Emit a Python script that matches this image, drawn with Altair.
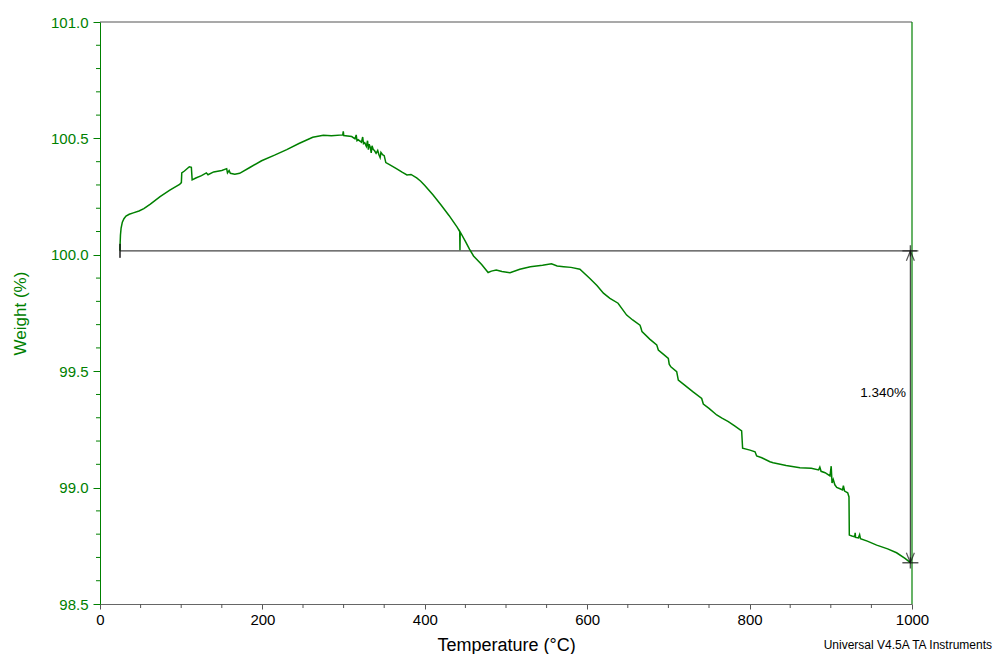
import altair as alt
import pandas as pd

GREEN = "#008000"
FONT = "Liberation Sans"

# TGA curve: temperature (°C) and weight (%)
temperature = [24.6, 24.8, 25.2, 26.0, 27.5, 29.5, 32, 36, 41, 48, 54, 62, 74, 86, 98,
               100.2, 100.7, 104, 110, 112.5, 113.5, 118, 125, 131, 133, 140, 150, 156, 157, 159,
               160.5, 166, 172, 185, 199, 215, 230, 245, 262, 275, 285, 299, 299.6, 300.2, 310,
               314, 315.5, 316.5, 318, 322, 323.5, 324.5, 326, 328, 329.5, 330.5, 331.5, 333, 334, 335,
               336.5, 338, 340, 342, 343.5, 345, 346, 348, 350, 352, 356, 365, 372, 378, 383,
               390, 395, 400, 410, 420, 430, 440, 443.0, 443.3, 443.6, 450, 455, 460, 470, 478,
               482, 488, 495, 505, 517, 530, 545, 556, 563, 571, 580, 591, 603, 612, 620,
               628, 638, 648.6, 656, 665, 666, 667.5, 677, 685.6, 687.6, 694, 699.9, 701, 703, 710.2,
               712.2, 720, 730, 741, 743, 750, 759.5, 766, 773.8, 782, 790.2, 791.4, 800.5, 806.7, 808.7,
               815, 825, 829, 845, 862, 876, 885, 886.5, 888, 893, 899, 900.5, 901.5, 903, 905,
               907.3, 912, 914.5, 915.5, 917, 920.8, 922.4, 922.8, 926, 929.5, 930, 930.5, 934, 935.5, 936.5,
               945, 956.5, 970, 981, 991.4, 998.4]
weight = [100.017, 100.05, 100.085, 100.115, 100.14, 100.155, 100.166, 100.174, 100.18, 100.188, 100.198, 100.218, 100.25, 100.278, 100.302,
          100.31, 100.352, 100.36, 100.378, 100.376, 100.322, 100.33, 100.34, 100.352, 100.344, 100.356, 100.362, 100.37, 100.352, 100.362,
          100.35, 100.346, 100.35, 100.376, 100.404, 100.428, 100.452, 100.478, 100.505, 100.514, 100.511, 100.515, 100.53, 100.512, 100.508,
          100.498, 100.515, 100.49, 100.494, 100.484, 100.506, 100.478, 100.482, 100.466, 100.49, 100.452, 100.475, 100.46, 100.438, 100.468,
          100.452, 100.448, 100.436, 100.448, 100.43, 100.418, 100.44, 100.43, 100.426, 100.396, 100.388, 100.37, 100.355, 100.343, 100.345,
          100.33, 100.316, 100.298, 100.258, 100.214, 100.168, 100.118, 100.1, 100.02, 100.098, 100.058, 100.024, 99.995, 99.958, 99.924,
          99.93, 99.935, 99.928, 99.923, 99.938, 99.949, 99.955, 99.961, 99.952, 99.949, 99.946, 99.938, 99.899, 99.868, 99.835,
          99.813, 99.792, 99.741, 99.72, 99.698, 99.688, 99.67, 99.638, 99.613, 99.591, 99.572, 99.555, 99.53, 99.519, 99.498,
          99.462, 99.44, 99.412, 99.383, 99.359, 99.34, 99.312, 99.298, 99.283, 99.264, 99.244, 99.169, 99.161, 99.154, 99.136,
          99.128, 99.111, 99.107, 99.095, 99.085, 99.083, 99.076, 99.088, 99.07, 99.064, 99.05, 99.092, 99.02, 99.035, 99.012,
          99.001, 98.994, 98.99, 99.008, 98.985, 98.978, 98.96, 98.796, 98.792, 98.789, 98.806, 98.786, 98.784, 98.798, 98.781,
          98.77, 98.753, 98.737, 98.72, 98.696, 98.677]

# step annotation
step_start_T = 24.6
step_end_T = 998.0
step_line_end_T = 1006.0
step_top_W = 100.017
step_bottom_W = 98.677
step_label = "1.340%"
step_label_T = 992.6
step_label_W = 99.406

y_major = [98.5, 99.0, 99.5, 100.0, 100.5, 101.0]
y_minor = [98.6, 98.7, 98.8, 98.9, 99.1, 99.2, 99.3, 99.4, 99.6, 99.7, 99.8, 99.9,
           100.1, 100.2, 100.3, 100.4, 100.6, 100.7, 100.8, 100.9]
x_major = [0, 200, 400, 600, 800, 1000]
x_minor = [50, 100, 150, 250, 300, 350, 450, 500, 550, 650, 700, 750, 850, 900, 950]

df = pd.DataFrame({"T": temperature, "W": weight, "i": list(range(len(temperature)))})

xscale = alt.Scale(domain=[0, 1000], nice=False, zero=False)
yscale = alt.Scale(domain=[98.5, 101.0], nice=False, zero=False)

xaxis = alt.Axis(
    values=x_major, title="Temperature (°C)", grid=False, format="d",
    tickSize=5, domainColor="#666666", tickColor="#555555", labelColor="#000000",
    labelFontSize=15, labelPadding=3, labelFlush=False, labelOverlap=False,
    titleFontSize=18, titleFontWeight="normal", titleColor="#000000",
    titleY=41, titleBaseline="middle",
)
yaxis = alt.Axis(
    values=y_major, title="Weight (%)", grid=False, format=".1f",
    tickSize=7, domainColor=GREEN, tickColor=GREEN, labelColor=GREEN,
    labelFontSize=15, labelPadding=5, labelFlush=False, labelOverlap=False,
    titleFontSize=17, titleFontWeight="normal", titleColor=GREEN,
    titleX=-80, titleY=291, titleAngle=-90, titleBaseline="middle", titleAlign="center",
)

curve = alt.Chart(df).mark_line(color=GREEN, strokeWidth=1.5).encode(
    x=alt.X("T:Q", scale=xscale, axis=xaxis),
    y=alt.Y("W:Q", scale=yscale, axis=yaxis),
    order="i:Q",
)

ym_df = pd.DataFrame({"v": y_minor})
y_minor_ticks = alt.Chart(ym_df).mark_rule(color=GREEN, strokeWidth=1, clip=False).encode(
    y=alt.Y("v:Q", scale=yscale), x=alt.value(-4), x2=alt.value(0)
)
xm_df = pd.DataFrame({"v": x_minor})
x_minor_ticks = alt.Chart(xm_df).mark_rule(color="#555555", strokeWidth=1, clip=False).encode(
    x=alt.X("v:Q", scale=xscale), y=alt.value(582), y2=alt.value(586)
)

hline_df = pd.DataFrame({"T": [step_start_T], "T2": [step_line_end_T], "W": [step_top_W]})
hline = alt.Chart(hline_df).mark_rule(color="#444444", strokeWidth=1.2, clip=False).encode(
    x=alt.X("T:Q", scale=xscale), x2="T2:Q", y=alt.Y("W:Q", scale=yscale)
)

vline_df = pd.DataFrame({"T": [step_end_T], "W": [step_top_W], "W2": [step_bottom_W]})
vline = alt.Chart(vline_df).mark_rule(color="#444444", strokeWidth=1.2).encode(
    x=alt.X("T:Q", scale=xscale), y=alt.Y("W:Q", scale=yscale), y2="W2:Q"
)

start_tick_df = pd.DataFrame({"T": [step_start_T], "W": [step_top_W]})
start_tick = alt.Chart(start_tick_df).mark_point(
    shape="M0,-1L0,1", size=196, filled=False, color="#111111", strokeWidth=2
).encode(x=alt.X("T:Q", scale=xscale), y=alt.Y("W:Q", scale=yscale))

cross_df = pd.DataFrame({"T": [step_end_T, step_end_T], "W": [step_top_W, step_bottom_W]})
crosses = alt.Chart(cross_df).mark_point(
    shape="M-1,0L1,0M0,-0.7L0,0.7", size=256, filled=False, color="#111111", strokeWidth=1.4
).encode(x=alt.X("T:Q", scale=xscale), y=alt.Y("W:Q", scale=yscale))

up_df = pd.DataFrame({"T": [step_end_T], "W": [step_top_W]})
arrow_up = alt.Chart(up_df).mark_point(
    shape="M-0.8,2L0,0L0.8,2", size=100, filled=False, color="#111111", strokeWidth=1.2
).encode(x=alt.X("T:Q", scale=xscale), y=alt.Y("W:Q", scale=yscale))

down_df = pd.DataFrame({"T": [step_end_T], "W": [step_bottom_W]})
arrow_down = alt.Chart(down_df).mark_point(
    shape="M-0.8,-2L0,0L0.8,-2", size=100, filled=False, color="#111111", strokeWidth=1.2
).encode(x=alt.X("T:Q", scale=xscale), y=alt.Y("W:Q", scale=yscale))

label_df = pd.DataFrame({"T": [step_label_T], "W": [step_label_W], "txt": [step_label]})
label = alt.Chart(label_df).mark_text(
    align="right", baseline="middle", fontSize=13.5, font=FONT, color="#000000"
).encode(x=alt.X("T:Q", scale=xscale), y=alt.Y("W:Q", scale=yscale), text="txt:N")

one = pd.DataFrame({"a": [0]})
top_border = alt.Chart(one).mark_rule(color="#555555", strokeWidth=1.2).encode(
    x=alt.value(0), x2=alt.value(812), y=alt.value(0)
)
right_border = alt.Chart(one).mark_rule(color=GREEN, strokeWidth=1.2).encode(
    x=alt.value(812), y=alt.value(0), y2=alt.value(582)
)

credit = alt.Chart(one).mark_text(
    align="right", baseline="middle", fontSize=12, font=FONT, color="#000000"
).encode(x=alt.value(892), y=alt.value(623), text=alt.value("Universal V4.5A TA Instruments"))

chart = alt.layer(
    top_border, right_border, y_minor_ticks, x_minor_ticks, hline, vline, curve,
    start_tick, crosses, arrow_up, arrow_down, label, credit
).properties(
    width=812, height=582,
    autosize=alt.AutoSizeParams(type="none"),
    padding={"left": 92, "top": 14, "right": 82, "bottom": 50},
    background="white",
).configure_view(stroke=None).configure_axis(
    labelFont=FONT, titleFont=FONT
).configure_text(font=FONT)

chart.save("out.html", embed_options={"renderer": "svg", "actions": False})
